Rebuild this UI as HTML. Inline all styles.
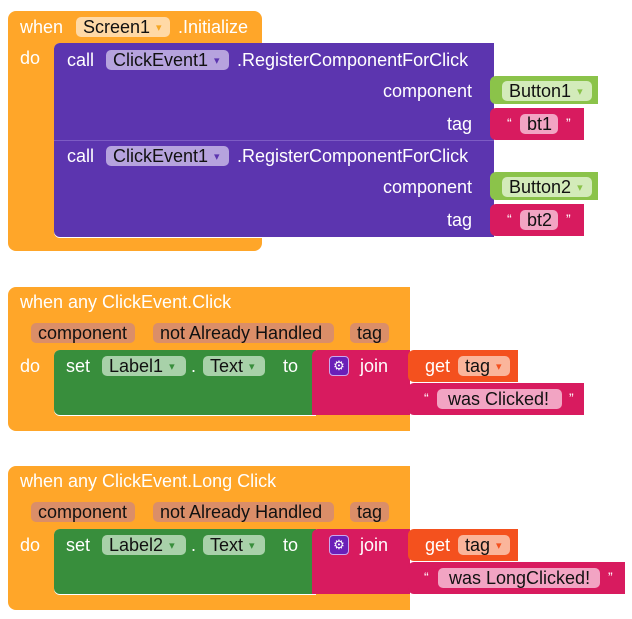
<!DOCTYPE html>
<html><head><meta charset="utf-8"><style>
body{margin:0;width:632px;height:619px;background:#fff;position:relative;overflow:hidden;font-family:"Liberation Sans",sans-serif;font-size:18px;color:#fff}
div{position:absolute;box-sizing:border-box}
.t{line-height:20px;white-space:nowrap}
.r{text-align:right}
.p{height:20px;line-height:20px;border-radius:5px;color:#111;padding-left:7px;white-space:nowrap}
.dd::after{content:"▾";font-size:11px;margin-left:6px;vertical-align:2px;color:var(--a,#666)}
.q{font-size:14px}
.o{background:#FFA629}
.pu{background:#5C35AF}
.g{background:#388E3C}
.k{background:#D81B5F}
.lg{background:#8BC34A}
.gt{background:#F4511E}
</style></head><body>

<!-- Block 1 -->
<div class="o" style="left:8px;top:11px;width:254px;height:240px;border-radius:8px"></div>
<div class="t" style="left:20px;top:17px">when</div>
<div class="p dd" style="left:76px;top:17px;width:94px;background:#FFD9A6;--a:#f5a623">Screen1</div>
<div class="t" style="left:178px;top:17px">.Initialize</div>
<div class="t" style="left:20px;top:48px">do</div>
<div style="left:54px;top:43px;width:440px;height:195px;background:#fff;border-radius:6px 0 0 6px"></div>
<div class="pu" style="left:54px;top:43px;width:440px;height:97px;border-radius:6px 0 0 0"></div>
<div class="pu" style="left:54px;top:141px;width:440px;height:96px;border-radius:0 0 0 6px"></div>
<div style="left:54px;top:140px;width:440px;height:1px;background:#7d5cc4"></div>
<div class="t" style="left:67px;top:50px">call</div>
<div class="p dd" style="left:106px;top:50px;width:123px;background:#B6A3DE;--a:#5C35AF">ClickEvent1</div>
<div class="t" style="left:237px;top:50px">.RegisterComponentForClick</div>
<div class="t r" style="left:300px;top:81px;width:172px">component</div>
<div class="t r" style="left:300px;top:114px;width:172px">tag</div>
<div class="t" style="left:67px;top:146px">call</div>
<div class="p dd" style="left:106px;top:146px;width:123px;background:#B6A3DE;--a:#5C35AF">ClickEvent1</div>
<div class="t" style="left:237px;top:146px">.RegisterComponentForClick</div>
<div class="t r" style="left:300px;top:177px;width:172px">component</div>
<div class="t r" style="left:300px;top:210px;width:172px">tag</div>

<div class="lg" style="left:490px;top:76px;width:108px;height:28px;border-radius:6px 0 0 6px"></div>
<div class="p dd" style="left:502px;top:81px;width:90px;background:#D3EBBA;--a:#8BC34A">Button1</div>
<div class="k" style="left:490px;top:108px;width:94px;height:32px;border-radius:6px 0 0 6px"></div>
<div class="t q" style="left:507px;top:113px">“</div>
<div class="p" style="left:520px;top:114px;width:38px;background:#F2A4C3">bt1</div>
<div class="t q" style="left:566px;top:113px">”</div>
<div class="lg" style="left:490px;top:172px;width:108px;height:28px;border-radius:6px 0 0 6px"></div>
<div class="p dd" style="left:502px;top:177px;width:90px;background:#D3EBBA;--a:#8BC34A">Button2</div>
<div class="k" style="left:490px;top:204px;width:94px;height:32px;border-radius:6px 0 0 6px"></div>
<div class="t q" style="left:507px;top:209px">“</div>
<div class="p" style="left:520px;top:210px;width:38px;background:#F2A4C3">bt2</div>
<div class="t q" style="left:566px;top:209px">”</div>

<!-- Block 2 -->
<div class="o" style="left:8px;top:287px;width:402px;height:144px;border-radius:8px 0 0 8px"></div>
<div class="t" style="left:20px;top:292px">when any ClickEvent.Click</div>
<div class="p" style="left:31px;top:323px;width:104px;background:#DB8E68">component</div>
<div class="p" style="left:153px;top:323px;width:181px;background:#DB8E68">not Already Handled</div>
<div class="p" style="left:350px;top:323px;width:39px;background:#DB8E68">tag</div>
<div class="t" style="left:20px;top:356px">do</div>
<div style="left:54px;top:350px;width:262px;height:66px;background:#fff;border-radius:6px 0 0 6px"></div>
<div class="g" style="left:54px;top:350px;width:262px;height:65px;border-radius:6px 0 0 6px"></div>
<div class="t" style="left:66px;top:356px">set</div>
<div class="p dd" style="left:102px;top:356px;width:84px;background:#A8D1A9;--a:#388E3C">Label1</div>
<div class="t" style="left:191px;top:356px">.</div>
<div class="p dd" style="left:203px;top:356px;width:62px;background:#A8D1A9;--a:#388E3C">Text</div>
<div class="t" style="left:283px;top:356px">to</div>
<div class="k" style="left:312px;top:350px;width:98px;height:65px;border-radius:6px 0 0 0"></div>
<div style="left:329px;top:356px;width:20px;height:20px;background:#6A1FB8;border:1px solid #c9a7ef;border-radius:4px;font-size:13px;line-height:18px;text-align:center;color:#fff">⚙</div>
<div class="t" style="left:360px;top:356px">join</div>
<div class="gt" style="left:408px;top:350px;width:110px;height:32px;border-radius:6px 0 0 6px"></div>
<div class="t" style="left:425px;top:356px">get</div>
<div class="p dd" style="left:458px;top:356px;width:52px;background:#FAB59B;--a:#F4511E">tag</div>
<div class="k" style="left:408px;top:383px;width:176px;height:32px;border-radius:6px 0 0 6px"></div>
<div class="t q" style="left:424px;top:388px">“</div>
<div class="p" style="left:437px;top:389px;width:125px;background:#F2A4C3;padding-left:11px">was Clicked!</div>
<div class="t q" style="left:569px;top:388px">”</div>

<!-- Block 3 -->
<div class="o" style="left:8px;top:466px;width:402px;height:144px;border-radius:8px 0 0 8px"></div>
<div class="t" style="left:20px;top:471px">when any ClickEvent.Long Click</div>
<div class="p" style="left:31px;top:502px;width:104px;background:#DB8E68">component</div>
<div class="p" style="left:153px;top:502px;width:181px;background:#DB8E68">not Already Handled</div>
<div class="p" style="left:350px;top:502px;width:39px;background:#DB8E68">tag</div>
<div class="t" style="left:20px;top:535px">do</div>
<div style="left:54px;top:529px;width:262px;height:66px;background:#fff;border-radius:6px 0 0 6px"></div>
<div class="g" style="left:54px;top:529px;width:262px;height:65px;border-radius:6px 0 0 6px"></div>
<div class="t" style="left:66px;top:535px">set</div>
<div class="p dd" style="left:102px;top:535px;width:84px;background:#A8D1A9;--a:#388E3C">Label2</div>
<div class="t" style="left:191px;top:535px">.</div>
<div class="p dd" style="left:203px;top:535px;width:62px;background:#A8D1A9;--a:#388E3C">Text</div>
<div class="t" style="left:283px;top:535px">to</div>
<div class="k" style="left:312px;top:529px;width:98px;height:65px;border-radius:6px 0 0 0"></div>
<div style="left:329px;top:535px;width:20px;height:20px;background:#6A1FB8;border:1px solid #c9a7ef;border-radius:4px;font-size:13px;line-height:18px;text-align:center;color:#fff">⚙</div>
<div class="t" style="left:360px;top:535px">join</div>
<div class="gt" style="left:408px;top:529px;width:110px;height:32px;border-radius:6px 0 0 6px"></div>
<div class="t" style="left:425px;top:535px">get</div>
<div class="p dd" style="left:458px;top:535px;width:52px;background:#FAB59B;--a:#F4511E">tag</div>
<div class="k" style="left:408px;top:562px;width:217px;height:32px;border-radius:6px 0 0 6px"></div>
<div class="t q" style="left:424px;top:567px">“</div>
<div class="p" style="left:438px;top:568px;width:162px;background:#F2A4C3;padding-left:11px">was LongClicked!</div>
<div class="t q" style="left:608px;top:567px">”</div>
</body></html>
